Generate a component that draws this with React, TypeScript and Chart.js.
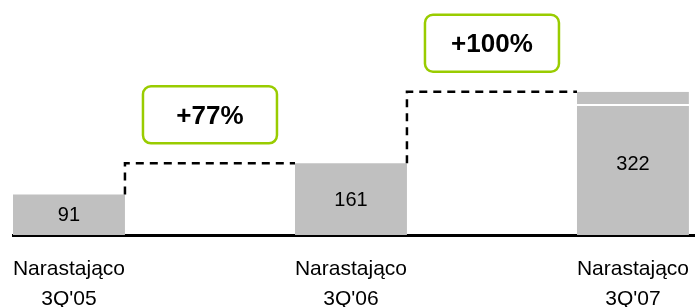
import React, { useEffect, useRef } from 'react';
import { Chart, registerables } from 'chart.js';

Chart.register(...registerables);

const categories: string[][] = [
  ['Narastająco', "3Q'05"],
  ['Narastająco', "3Q'06"],
  ['Narastająco', "3Q'07"],
];
const totals = [91, 161, 322];
const baseValues = [91, 161, 290];
const topSegmentIndex = 2;
const topSegmentRange: [number, number] = [290, 322];
const growthLabels = ['+77%', '+100%'];

const FONT = '"Liberation Sans", Arial, Helvetica, sans-serif';
const BAR_FRACTION = 0.397;
const HALF = BAR_FRACTION / 2;
const GREEN = '#99cc00';
const GREY = '#c0c0c0';

const annotationsPlugin = {
  id: 'annotationsPlugin',
  afterDatasetsDraw(chart: any) {
    const { ctx, scales } = chart;
    const xs = scales.x;
    const ys = scales.y;
    ctx.save();
    ctx.fillStyle = '#000';
    ctx.font = `20px ${FONT}`;
    ctx.textAlign = 'center';
    ctx.textBaseline = 'middle';
    totals.forEach((v, i) => {
      const x = xs.getPixelForValue(i);
      const yTop = ys.getPixelForValue(v);
      const yBase = ys.getPixelForValue(0);
      ctx.fillText(String(v), x, (yTop + yBase) / 2 + 1);
    });
    growthLabels.forEach((label, i) => {
      const cx = xs.getPixelForValue(i + 0.5);
      const lineY = ys.getPixelForValue(totals[i + 1]);
      const w = 134;
      const h = 57;
      const bottom = lineY - 20;
      const top = bottom - h;
      const left = cx - w / 2;
      ctx.beginPath();
      ctx.roundRect(left, top, w, h, 8);
      ctx.fillStyle = '#fff';
      ctx.fill();
      ctx.lineWidth = 2.5;
      ctx.strokeStyle = GREEN;
      ctx.stroke();
      ctx.fillStyle = '#000';
      ctx.font = `bold 26px ${FONT}`;
      ctx.fillText(label, cx, top + h / 2 + 2);
    });
    ctx.restore();
  },
};

export default function App() {
  const ref = useRef<HTMLCanvasElement>(null);

  useEffect(() => {
    if (!ref.current) return;

    const lineSets = totals.slice(0, -1).map((v, i) => ({
      type: 'line' as const,
      data: [
        { x: i + HALF, y: v },
        { x: i + HALF, y: totals[i + 1] },
        { x: i + 1 - HALF, y: totals[i + 1] },
      ],
      borderColor: '#000',
      borderWidth: 2.5,
      borderDash: [8, 6],
      pointRadius: 0,
      tension: 0,
      fill: false,
      order: 0,
    }));

    const chart = new Chart(ref.current, {
      type: 'bar',
      data: {
        datasets: [
          ...lineSets,
          {
            type: 'bar',
            data: baseValues.map((v, i) => ({ x: i, y: v })),
            backgroundColor: GREY,
            borderWidth: 0,
            grouped: false,
            categoryPercentage: 1,
            barPercentage: BAR_FRACTION,
            order: 2,
          },
          {
            type: 'bar',
            data: [{ x: topSegmentIndex, y: topSegmentRange }],
            backgroundColor: GREY,
            borderColor: '#fff',
            borderWidth: { top: 0, left: 0, right: 0, bottom: 2 },
            borderSkipped: false,
            grouped: false,
            categoryPercentage: 1,
            barPercentage: BAR_FRACTION,
            order: 1,
          },
        ] as any,
      },
      options: {
        animation: false,
        responsive: false,
        maintainAspectRatio: false,
        layout: { padding: { left: 13, right: 0, top: 0, bottom: 0 } },
        plugins: { legend: { display: false }, tooltip: { enabled: false } },
        scales: {
          x: {
            type: 'linear',
            offset: false,
            min: -HALF,
            max: 2.22,
            grid: { display: false, drawTicks: false, offset: false },
            border: { display: true, color: '#000', width: 3 },
            ticks: {
              color: '#000',
              font: { family: FONT, size: 21, lineHeight: 1.4 },
              padding: 20,
              maxRotation: 0,
              autoSkip: false,
              callback: (v: any) => categories[Math.round(Number(v))] ?? '',
            },
            afterBuildTicks: (s: any) => {
              s.ticks = categories.map((_, i) => ({ value: i }));
            },
            afterFit: (s: any) => {
              s.height = 72;
              s.paddingLeft = 0;
              s.paddingRight = 0;
            },
          },
          y: { display: false, min: 0, max: 528 },
        },
      } as any,
      plugins: [annotationsPlugin],
    });
    return () => chart.destroy();
  }, []);

  return (
    <div style={{ position: 'fixed', left: 0, top: 0, width: 695, height: 307, background: '#fff' }}>
      <canvas ref={ref} width={695} height={307} style={{ display: 'block' }} />
    </div>
  );
}
